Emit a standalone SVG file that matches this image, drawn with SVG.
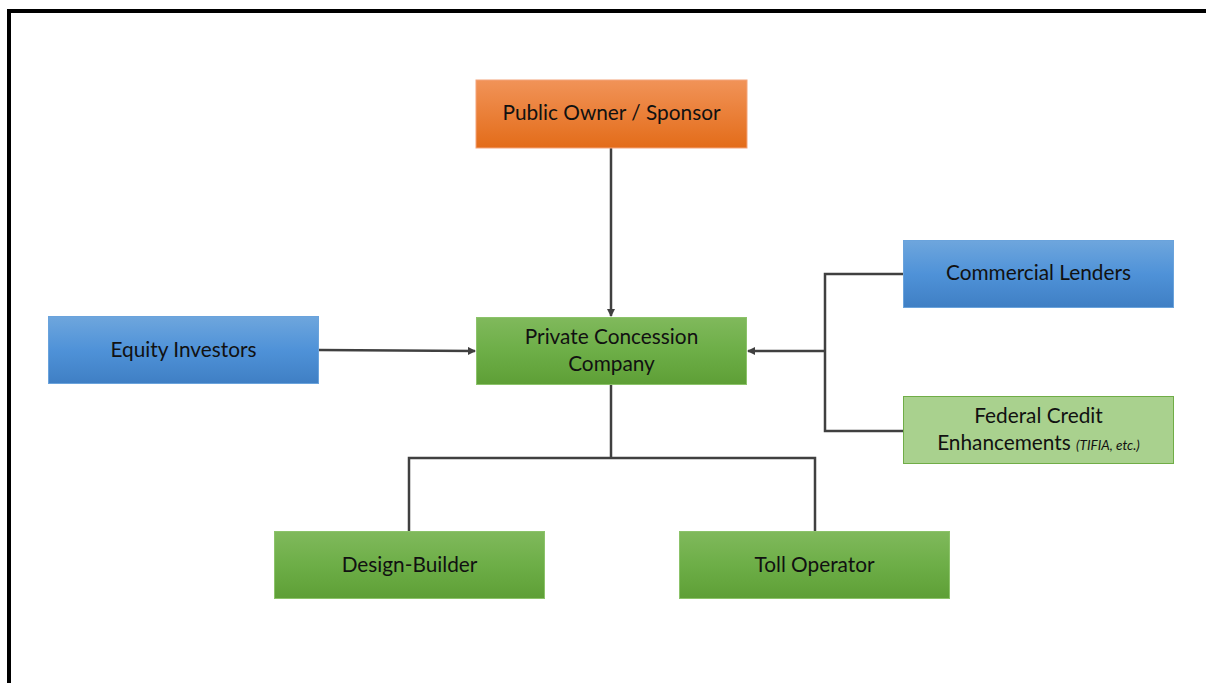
<svg xmlns="http://www.w3.org/2000/svg" width="1206" height="683" viewBox="0 0 1206 683">
<style>
.t{font-family:Lato,"Open Sans","Liberation Sans",sans-serif;font-size:20.8px;fill:#111;text-anchor:middle}
.it{font-style:italic;font-size:13.5px}
.c{stroke:#404040;stroke-width:2.5;fill:none}
</style>
<defs>
<linearGradient id="gO" x1="0" y1="0" x2="0" y2="1"><stop offset="0" stop-color="#f19358"/><stop offset="1" stop-color="#e36c19"/></linearGradient>
<linearGradient id="gB" x1="0" y1="0" x2="0" y2="1"><stop offset="0" stop-color="#6ea6dd"/><stop offset="0.5" stop-color="#4f92d8"/><stop offset="1" stop-color="#3f7fc4"/></linearGradient>
<linearGradient id="gG" x1="0" y1="0" x2="0" y2="1"><stop offset="0" stop-color="#80b95c"/><stop offset="0.5" stop-color="#6dae47"/><stop offset="1" stop-color="#5e9f36"/></linearGradient>
<marker id="ar" markerWidth="8" markerHeight="8" refX="7" refY="4" orient="auto" markerUnits="userSpaceOnUse"><path d="M0,0 L8,4 L0,8 z" fill="#404040"/></marker>
</defs>
<rect width="1206" height="683" fill="#fff"/>
<path d="M9,690 V11 H1215" fill="none" stroke="#000" stroke-width="4"/>
<g id="connectors">
<line class="c" x1="611" y1="148" x2="611" y2="316" marker-end="url(#ar)"/>
<line class="c" x1="319" y1="350" x2="475" y2="351" marker-end="url(#ar)"/>
<path class="c" d="M903,274 H825 V431 H903"/>
<line class="c" x1="825" y1="351" x2="748" y2="351" marker-end="url(#ar)"/>
<path class="c" d="M611,385 V458"/>
<path class="c" d="M409,531 V458 H815 V531"/>
</g>
<g id="public-owner">
<rect x="476" y="80" width="271" height="68" fill="url(#gO)" stroke="#f4a47a" stroke-width="1"/>
<text class="t" x="611.5" y="120">Public Owner / Sponsor</text>
</g>
<g id="commercial-lenders">
<rect x="903.5" y="240.5" width="270" height="67" fill="url(#gB)" stroke="#6aa3dc" stroke-width="1"/>
<text class="t" x="1038.5" y="280">Commercial Lenders</text>
</g>
<g id="equity-investors">
<rect x="48.5" y="316.5" width="270" height="67" fill="url(#gB)" stroke="#6aa3dc" stroke-width="1"/>
<text class="t" x="183.5" y="357">Equity Investors</text>
</g>
<g id="private-concession">
<rect x="476.5" y="317.5" width="270" height="67" fill="url(#gG)" stroke="#8cc36a" stroke-width="1"/>
<text class="t" x="611.5" y="344">Private Concession</text>
<text class="t" x="611.5" y="371">Company</text>
</g>
<g id="federal-credit">
<rect x="903.5" y="396.5" width="270" height="67" fill="#a9d18e" stroke="#70ad47" stroke-width="1"/>
<text class="t" x="1038.5" y="423">Federal Credit</text>
<text class="t" x="1038.5" y="450">Enhancements <tspan class="it">(TIFIA, etc.)</tspan></text>
</g>
<g id="design-builder">
<rect x="274.5" y="531.5" width="270" height="67" fill="url(#gG)" stroke="#8cc36a" stroke-width="1"/>
<text class="t" x="409.5" y="572">Design-Builder</text>
</g>
<g id="toll-operator">
<rect x="679.5" y="531.5" width="270" height="67" fill="url(#gG)" stroke="#8cc36a" stroke-width="1"/>
<text class="t" x="814.5" y="572">Toll Operator</text>
</g>
</svg>
